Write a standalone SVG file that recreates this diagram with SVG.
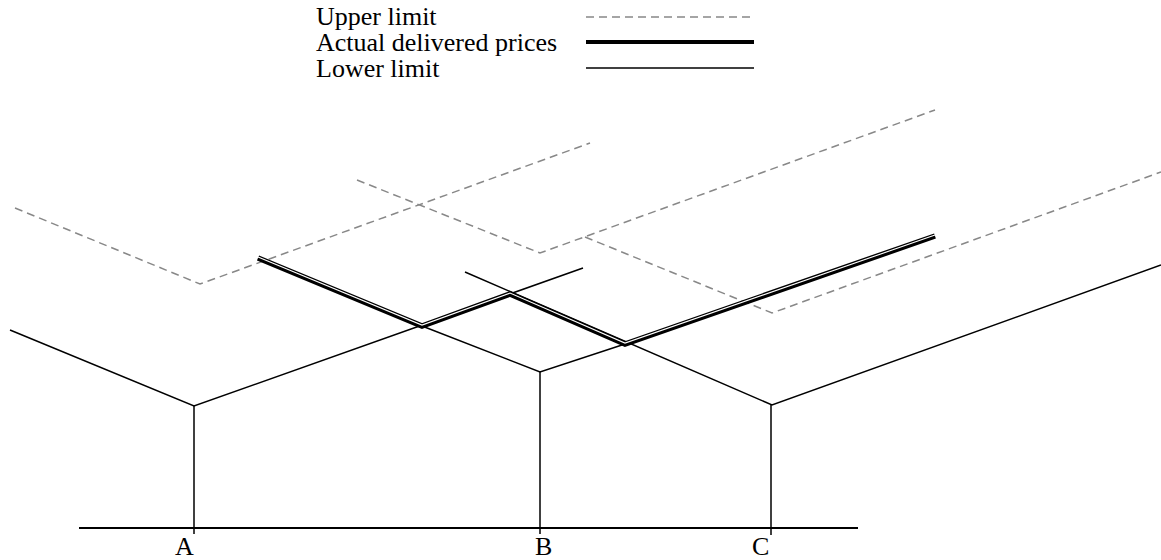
<svg xmlns="http://www.w3.org/2000/svg" width="1161" height="560" viewBox="0 0 1161 560">
<style>
.txt{font-family:"Liberation Serif","Times New Roman",serif;font-size:26px;fill:#000}
.lower{fill:none;stroke:#000;stroke-width:1.5}
.upper{fill:none;stroke:#888;stroke-width:1.5;stroke-dasharray:8 5}
.actual{fill:none;stroke:#000;stroke-width:5.5;stroke-linejoin:miter}
.gap{fill:none;stroke:#fff;stroke-width:1.1}
.axis{fill:none;stroke:#000;stroke-width:2}
</style>
<rect width="1161" height="560" fill="#fff"/>
<g id="legend">
<text class="txt" x="316" y="25">Upper limit</text>
<text class="txt" x="316" y="51">Actual delivered prices</text>
<text class="txt" x="316" y="77">Lower limit</text>
<line class="upper" x1="586" y1="17" x2="750" y2="17"/>
<line x1="586" y1="42" x2="754" y2="42" stroke="#000" stroke-width="4"/>
<line x1="586" y1="68" x2="754" y2="68" stroke="#000" stroke-width="1.5"/>
</g>
<g id="connectors">
<g id="upper-limits">
<polyline class="upper" points="15,208 200,284 590,143"/>
<polyline class="upper" points="357,180 540,253 935,110"/>
<polyline class="upper" points="585,237 772,313 1161,172"/>
</g>
<g id="lower-limits">
<polyline class="lower" points="10,330 194,406 583,268"/>
<polyline class="lower" points="422,326 540,372 625,344"/>
<polyline class="lower" points="465,272 772,405 1161,265"/>
</g>
<g id="actual">
<polyline class="actual" points="258,258 422,326 510,294 625,344 935,236"/>
<polyline class="gap" transform="translate(0,-0.9)" points="258,258 422,326 510,294 625,344 935,236"/>
</g>
</g>
<g id="axis">
<line class="axis" x1="79" y1="528" x2="858" y2="528"/>
</g>
<g id="node-A">
<line class="lower" x1="194" y1="406" x2="194" y2="534"/>
<text class="txt" x="175" y="555">A</text>
</g>
<g id="node-B">
<line class="lower" x1="540" y1="372" x2="540" y2="534"/>
<text class="txt" x="535" y="555">B</text>
</g>
<g id="node-C">
<line class="lower" x1="771" y1="405" x2="771" y2="535"/>
<text class="txt" x="752" y="555">C</text>
</g>
</svg>
